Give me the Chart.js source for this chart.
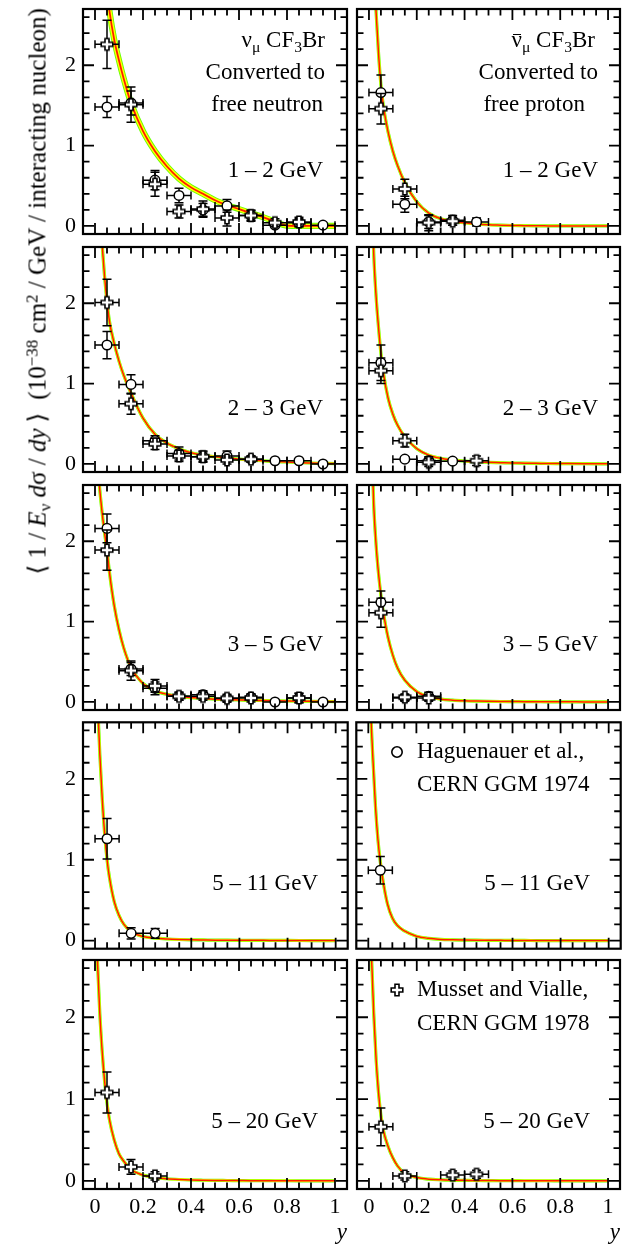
<!DOCTYPE html>
<html lang="en">
<head>
<meta charset="UTF-8">
<title>CF3Br y distributions</title>
<script src="https://cdn.jsdelivr.net/npm/chart.js"></script>
<style>
  body { margin: 0; background: #fff; width: 634px; height: 1247px; position: relative; overflow: hidden;
         font-family: "Liberation Serif", "Times New Roman", serif; color: #000; }
  canvas { position: absolute; }
  .txt { position: absolute; white-space: nowrap; font-size: 23px; line-height: 1; }
  .sub { font-size: 0.68em; position: relative; top: 0.32em; }
  .sup { font-size: 0.68em; position: relative; top: -0.48em; }
  .bar { position: relative; }
  .bar::after { content: ''; position: absolute; left: 0.06em; right: 0.06em; top: 0.32em; border-top: 1.3px solid #000; }
  #ylabel { position: absolute; left: -283px; top: 279px; width: 640px; text-align: center; font-size: 25px;
            line-height: 1; white-space: nowrap; transform: rotate(-90deg); }
  .mark { position: absolute; }
</style>
</head>
<body>

<div id="ylabel">⟨ 1 / <i>E</i><span class="sub">ν</span> <i>d</i>σ / <i>dy</i> ⟩ &nbsp;(10<span class="sup">−38</span> cm<span class="sup">2</span> / GeV / interacting nucleon)</div>

<!-- panel annotations -->
<div class="txt" style="right:309px; top:28px">ν<span class="sub">μ</span> CF<span class="sub">3</span>Br</div>
<div class="txt" style="right:309px; top:60px">Converted to</div>
<div class="txt" style="right:311px; top:92px">free neutron</div>
<div class="txt" style="right:39px; top:28px"><span class="bar">ν</span><span class="sub">μ</span> CF<span class="sub">3</span>Br</div>
<div class="txt" style="right:36px; top:60px">Converted to</div>
<div class="txt" style="right:49px; top:92px">free proton</div>

<div class="txt" style="right:311px; top:158px">1 – 2 GeV</div>
<div class="txt" style="right:36px; top:158px">1 – 2 GeV</div>
<div class="txt" style="right:311px; top:396px">2 – 3 GeV</div>
<div class="txt" style="right:36px; top:396px">2 – 3 GeV</div>
<div class="txt" style="right:311px; top:632px">3 – 5 GeV</div>
<div class="txt" style="right:36px; top:632px">3 – 5 GeV</div>
<div class="txt" style="right:316px; top:871px">5 – 11 GeV</div>
<div class="txt" style="right:44px; top:871px">5 – 11 GeV</div>
<div class="txt" style="right:316px; top:1109px">5 – 20 GeV</div>
<div class="txt" style="right:44px; top:1109px">5 – 20 GeV</div>

<!-- legend -->
<svg class="mark" style="left:389px; top:744px" width="16" height="16"><circle cx="8" cy="8" r="5.2" fill="#fff" stroke="#000" stroke-width="1.6"/></svg>
<div class="txt" style="left:417px; top:739px">Haguenauer et al.,</div>
<div class="txt" style="left:417px; top:772px">CERN GGM 1974</div>
<svg class="mark" style="left:389px; top:982px" width="16" height="16"><path d="M6 2.2h4v3.8h3.8v4H10v3.8H6V10H2.2V6H6z" fill="#fff" stroke="#000" stroke-width="1.6"/></svg>
<div class="txt" style="left:417px; top:977px">Musset and Vialle,</div>
<div class="txt" style="left:417px; top:1011px">CERN GGM 1978</div>

<script>
// ---- data ----
const yBins = [0.05, 0.15, 0.25, 0.35, 0.45, 0.55, 0.65, 0.75, 0.85, 0.95];
const binHalfWidth = 0.05;
const energyRanges = ['1 – 2 GeV', '2 – 3 GeV', '3 – 5 GeV', '5 – 11 GeV', '5 – 20 GeV'];

const xMajorTicks = [0, 0.2, 0.4, 0.6, 0.8, 1];
const xTickLabels = ['0', '0.2', '0.4', '0.6', '0.8', '1'];
const xMinorTicks = [0.05, 0.1, 0.15, 0.25, 0.3, 0.35, 0.45, 0.5, 0.55, 0.65, 0.7, 0.75, 0.85, 0.9, 0.95];
const yMajorTicks = [0, 1, 2];
const yTickLabels = ['0', '1', '2'];
const yMinorTicks = [0.2, 0.4, 0.6, 0.8, 1.2, 1.4, 1.6, 1.8, 2.2, 2.4, 2.6];

// Haguenauer et al., CERN GGM 1974 (open circles), one row per energy range
const hagNu = [
  [1.48, 1.53, 0.57, 0.38, 0.20, 0.25, 0.13, 0.01, 0.04, 0.01],
  [1.48, 0.99, 0.29, 0.13, 0.09, 0.10, 0.06, 0.04, 0.04, 0.00],
  [2.16, 0.41, 0.17, 0.07, 0.09, 0.045, 0.06, 0.00, 0.05, 0.00],
  [1.26, 0.09, 0.09],
  []
];
const hagNuErr = [
  [0.13, 0.15, 0.12, 0.09, 0.08, 0.08, 0.07, 0.03, 0.05, 0.02],
  [0.17, 0.12, 0.06, 0.08, 0.07, 0.06, 0.04, 0.02, 0.02, 0.02],
  [0.18, 0.08, 0.08, 0.05, 0.05, 0.04, 0.04, 0.02, 0.06, 0.02],
  [0.25, 0.07, 0.06],
  []
];
const hagNubar = [
  [1.66, 0.27, 0.05, 0.07, 0.05],
  [1.26, 0.06, 0.04, 0.035],
  [1.24, 0.05, 0.07],
  [0.87],
  []
];
const hagNubarErr = [
  [0.22, 0.10, 0.08, 0.06, 0.05],
  [0.22, 0.03, 0.05, 0.03],
  [0.14, 0.04, 0.05],
  [0.17],
  []
];

// Musset and Vialle, CERN GGM 1978 (open crosses)
const musNu = [
  [2.26, 1.51, 0.52, 0.18, 0.21, 0.10, 0.13, 0.04, 0.05],
  [2.01, 0.75, 0.25, 0.10, 0.09, 0.05, 0.06],
  [1.89, 0.39, 0.20, 0.07, 0.07, 0.045, 0.05, null, 0.05],
  [],
  [1.08, 0.17, 0.06]
];
const musNuErr = [
  [0.30, 0.22, 0.15, 0.08, 0.10, 0.10, 0.06, 0.05, 0.06],
  [0.29, 0.13, 0.07, 0.07, 0.06, 0.05, 0.04],
  [0.25, 0.12, 0.08, 0.05, 0.05, 0.05, 0.05, null, 0.06],
  [],
  [0.25, 0.09, 0.05]
];
const musNubar = [
  [1.46, 0.46, 0.04, 0.06],
  [1.16, 0.29, 0.02, null, 0.04],
  [1.11, 0.06, 0.05],
  [],
  [0.66, 0.06, null, 0.07, 0.08]
];
const musNubarErr = [
  [0.19, 0.12, 0.10, 0.05],
  [0.16, 0.08, 0.05, null, 0.06],
  [0.18, 0.04, 0.04],
  [],
  [0.23, 0.05, null, 0.05, 0.05]
];

// prediction curves, sampled by eye along y
const curveY = [0, 0.01, 0.02, 0.03, 0.04, 0.05, 0.06, 0.08, 0.1, 0.12, 0.15, 0.2, 0.25, 0.3,
                0.35, 0.4, 0.45, 0.5, 0.55, 0.6, 0.65, 0.7, 0.75, 0.8, 0.9, 1.0];
const curveNu = [
  [4.6, 4.25, 3.9, 3.55, 3.22, 2.93, 2.68, 2.32, 2.06, 1.83, 1.53, 1.18, 0.93, 0.74,
   0.59, 0.48, 0.40, 0.32, 0.26, 0.21, 0.16, 0.11, 0.055, 0.005, 0, 0],
  [4.2, 3.6, 3.1, 2.72, 2.33, 2.02, 1.78, 1.5, 1.28, 1.1, 0.88, 0.57, 0.37, 0.26,
   0.19, 0.14, 0.11, 0.09, 0.075, 0.06, 0.05, 0.04, 0.03, 0.025, 0.012, 0.005],
  [3.4, 3.0, 2.64, 2.35, 2.1, 1.89, 1.62, 1.2, 0.9, 0.67, 0.43, 0.23, 0.14, 0.095,
   0.07, 0.055, 0.045, 0.035, 0.03, 0.025, 0.02, 0.018, 0.015, 0.012, 0.008, 0.005],
  [4.0, 3.0, 2.3, 1.75, 1.32, 1.0, 0.78, 0.48, 0.31, 0.2, 0.11, 0.05, 0.03, 0.02,
   0.014, 0.01, 0.008, 0.006, 0.005, 0.004, 0.003, 0.003, 0.002, 0.002, 0.001, 0.001],
  [3.5, 2.7, 2.05, 1.58, 1.22, 0.95, 0.75, 0.5, 0.33, 0.24, 0.14, 0.07, 0.04, 0.025,
   0.016, 0.01, 0.007, 0.005, 0.004, 0.003, 0.002, 0.002, 0.001, 0.001, 0, 0]
];
const curveNubar = [
  [5.0, 4.0, 3.25, 2.65, 2.15, 1.76, 1.5, 1.17, 0.93, 0.75, 0.54, 0.3, 0.16, 0.09,
   0.06, 0.04, 0.025, 0.015, 0.01, 0.006, 0.004, 0.002, 0.001, 0, 0, 0],
  [5.0, 3.55, 2.62, 2.08, 1.7, 1.38, 1.14, 0.82, 0.62, 0.48, 0.34, 0.19, 0.11, 0.07,
   0.05, 0.035, 0.027, 0.02, 0.016, 0.012, 0.01, 0.008, 0.006, 0.005, 0.003, 0.002],
  [4.5, 3.3, 2.45, 1.95, 1.6, 1.33, 1.12, 0.8, 0.58, 0.42, 0.27, 0.13, 0.065, 0.035,
   0.022, 0.015, 0.011, 0.008, 0.006, 0.005, 0.004, 0.003, 0.002, 0.002, 0.001, 0],
  [3.8, 2.85, 2.2, 1.65, 1.25, 0.97, 0.76, 0.45, 0.28, 0.19, 0.12, 0.055, 0.028, 0.015,
   0.01, 0.007, 0.005, 0.004, 0.003, 0.002, 0.002, 0.001, 0.001, 0.001, 0, 0],
  [3.6, 2.8, 2.05, 1.48, 1.08, 0.8, 0.62, 0.42, 0.28, 0.18, 0.09, 0.04, 0.02, 0.012,
   0.008, 0.006, 0.004, 0.003, 0.002, 0.002, 0.001, 0.001, 0.001, 0, 0, 0]
];

// ---- layout ----
const panelTop = [5, 243, 481, 719, 956];
const panelH = 233, panelW = 268;
const FONT = '"Liberation Serif", "Times New Roman", serif';

function makeCross() {
  const c = document.createElement('canvas');
  c.width = 16; c.height = 16;
  const g = c.getContext('2d');
  const m = 8, a = 2.0, L = 5.8;
  g.beginPath();
  g.moveTo(m - a, m - L); g.lineTo(m + a, m - L); g.lineTo(m + a, m - a); g.lineTo(m + L, m - a);
  g.lineTo(m + L, m + a); g.lineTo(m + a, m + a); g.lineTo(m + a, m + L); g.lineTo(m - a, m + L);
  g.lineTo(m - a, m + a); g.lineTo(m - L, m + a); g.lineTo(m - L, m - a); g.lineTo(m - a, m - a);
  g.closePath();
  g.fillStyle = '#fff'; g.fill();
  g.lineWidth = 1.6; g.strokeStyle = '#000'; g.stroke();
  return c;
}
const crossImg = makeCross();

// vertical + horizontal error bars, drawn just under each marker set
const errorBars = {
  id: 'errorBars',
  beforeDatasetDraw(chart, args) {
    const ds = chart.data.datasets[args.index];
    if (!ds.errY) return;
    const xs = chart.scales.x, ys = chart.scales.y, ctx = chart.ctx, a = chart.chartArea;
    ctx.save();
    ctx.beginPath();
    ctx.rect(a.left, a.top, a.right - a.left, a.bottom - a.top);
    ctx.clip();
    ctx.strokeStyle = '#000';
    ctx.lineWidth = 1.5;
    ds.data.forEach((p, i) => {
      const px = xs.getPixelForValue(p.x), py = ys.getPixelForValue(p.y);
      const x0 = xs.getPixelForValue(p.x - binHalfWidth), x1 = xs.getPixelForValue(p.x + binHalfWidth);
      const y0 = ys.getPixelForValue(p.y - ds.errY[i]), y1 = ys.getPixelForValue(p.y + ds.errY[i]);
      ctx.beginPath();
      ctx.moveTo(x0, py); ctx.lineTo(x1, py);
      ctx.moveTo(x0, py - 4); ctx.lineTo(x0, py + 4);
      ctx.moveTo(x1, py - 4); ctx.lineTo(x1, py + 4);
      ctx.moveTo(px, y0); ctx.lineTo(px, y1);
      ctx.moveTo(px - 4.5, y0); ctx.lineTo(px + 4.5, y0);
      ctx.moveTo(px - 4.5, y1); ctx.lineTo(px + 4.5, y1);
      ctx.stroke();
    });
    ctx.restore();
  }
};

// frame and inward ticks on all four sides
const frameTicks = {
  id: 'frameTicks',
  afterDraw(chart) {
    const {left, right, top, bottom} = chart.chartArea;
    const xs = chart.scales.x, ys = chart.scales.y, ctx = chart.ctx;
    ctx.save();
    ctx.strokeStyle = '#000';
    ctx.lineWidth = 1.8;
    ctx.beginPath();
    const xt = (vals, len) => vals.forEach(v => {
      const p = xs.getPixelForValue(v);
      ctx.moveTo(p, bottom); ctx.lineTo(p, bottom - len);
      ctx.moveTo(p, top); ctx.lineTo(p, top + len);
    });
    const yt = (vals, len) => vals.forEach(v => {
      const p = ys.getPixelForValue(v);
      ctx.moveTo(left, p); ctx.lineTo(left + len, p);
      ctx.moveTo(right, p); ctx.lineTo(right - len, p);
    });
    xt(xMajorTicks, 11); xt(xMinorTicks, 6.5);
    yt(yMajorTicks, 11); yt(yMinorTicks, 6.5);
    ctx.stroke();
    ctx.lineWidth = 2.2;
    ctx.strokeRect(left, top, right - left, bottom - top);
    ctx.restore();
  }
};

function points(vals, errs) {
  const data = [], errY = [];
  vals.forEach((v, i) => {
    if (v === null || v === undefined) return;
    data.push({x: yBins[i], y: v});
    errY.push(errs[i]);
  });
  return {data, errY};
}

function curveSets(vals, wide) {
  const data = curveY.map((x, i) => ({x, y: vals[i]}));
  const w = wide ? [6.2, 4.4, 1.7] : [3.2, 2.3, 1.5];
  const base = {data, showLine: true, pointRadius: 0, cubicInterpolationMode: 'monotone', clip: 0, fill: false};
  return [
    Object.assign({}, base, {borderColor: '#ff1a00', borderWidth: w[2], order: 2}),
    Object.assign({}, base, {borderColor: '#ffff00', borderWidth: w[1], order: 3}),
    Object.assign({}, base, {borderColor: '#66ff00', borderWidth: w[0], order: 4})
  ];
}

// the axis boxes keep a fixed size so every plot area sits where the figure has it
function fixBox(size, horizontal) {
  return s => {
    if (horizontal) s.height = size; else s.width = size;
    s.paddingTop = s.paddingBottom = s.paddingLeft = s.paddingRight = 0;
  };
}

function makePanel(row, col) {
  const isBottom = row === 4;
  const axisW = col === 0 ? 48 : 6;
  const xAxisH = isBottom ? 58 : 3;
  const cv = document.createElement('canvas');
  cv.width = axisW + panelW + 3;
  cv.height = 3 + panelH + xAxisH;
  cv.style.left = (col === 0 ? 83 - axisW : 356 - axisW) + 'px';
  cv.style.top = (panelTop[row] - 3) + 'px';
  document.body.insertBefore(cv, document.body.firstChild);

  const hag = col === 0 ? points(hagNu[row], hagNuErr[row]) : points(hagNubar[row], hagNubarErr[row]);
  const mus = col === 0 ? points(musNu[row], musNuErr[row]) : points(musNubar[row], musNubarErr[row]);
  const curve = col === 0 ? curveNu[row] : curveNubar[row];

  new Chart(cv, {
    type: 'line',
    data: {
      datasets: [
        {label: 'Musset and Vialle, CERN GGM 1978', data: mus.data, errY: mus.errY, showLine: false,
         pointStyle: crossImg, pointRadius: 6, order: 0},
        {label: 'Haguenauer et al., CERN GGM 1974', data: hag.data, errY: hag.errY, showLine: false,
         pointStyle: 'circle', pointRadius: 4.8, pointBackgroundColor: '#fff', pointBorderColor: '#000',
         pointBorderWidth: 1.5, order: 1},
        ...curveSets(curve, row === 0 && col === 0)
      ]
    },
    options: {
      responsive: false,
      animation: false,
      layout: {padding: {top: 3, right: 3, left: 0, bottom: 0}},
      plugins: {legend: {display: false}, tooltip: {enabled: false}},
      scales: {
        x: {
          type: 'linear', min: -0.05, max: 1.05,
          grid: {display: false, drawTicks: false},
          border: {display: false},
          ticks: {display: isBottom, padding: 5, color: '#000', maxRotation: 0, autoSkip: false,
                  font: {family: FONT, size: 22},
                  callback: (v, i) => xTickLabels[i]},
          afterBuildTicks: s => { s.ticks = xMajorTicks.map(v => ({value: v})); },
          afterFit: fixBox(xAxisH, true),
          title: {display: isBottom, text: 'y', align: 'end', color: '#000', padding: 0,
                  font: {family: FONT, size: 23, style: 'italic'}}
        },
        y: {
          type: 'linear', min: -0.1, max: 2.7,
          grid: {display: false, drawTicks: false},
          border: {display: false},
          ticks: {display: col === 0, padding: 7, color: '#000', font: {family: FONT, size: 22},
                  callback: (v, i) => yTickLabels[i]},
          afterBuildTicks: s => { s.ticks = yMajorTicks.map(v => ({value: v})); },
          afterFit: fixBox(axisW, false)
        }
      }
    },
    plugins: [errorBars, frameTicks]
  });
}

for (let r = 0; r < energyRanges.length; r++) {
  makePanel(r, 0);
  makePanel(r, 1);
}
</script>
</body>
</html>
